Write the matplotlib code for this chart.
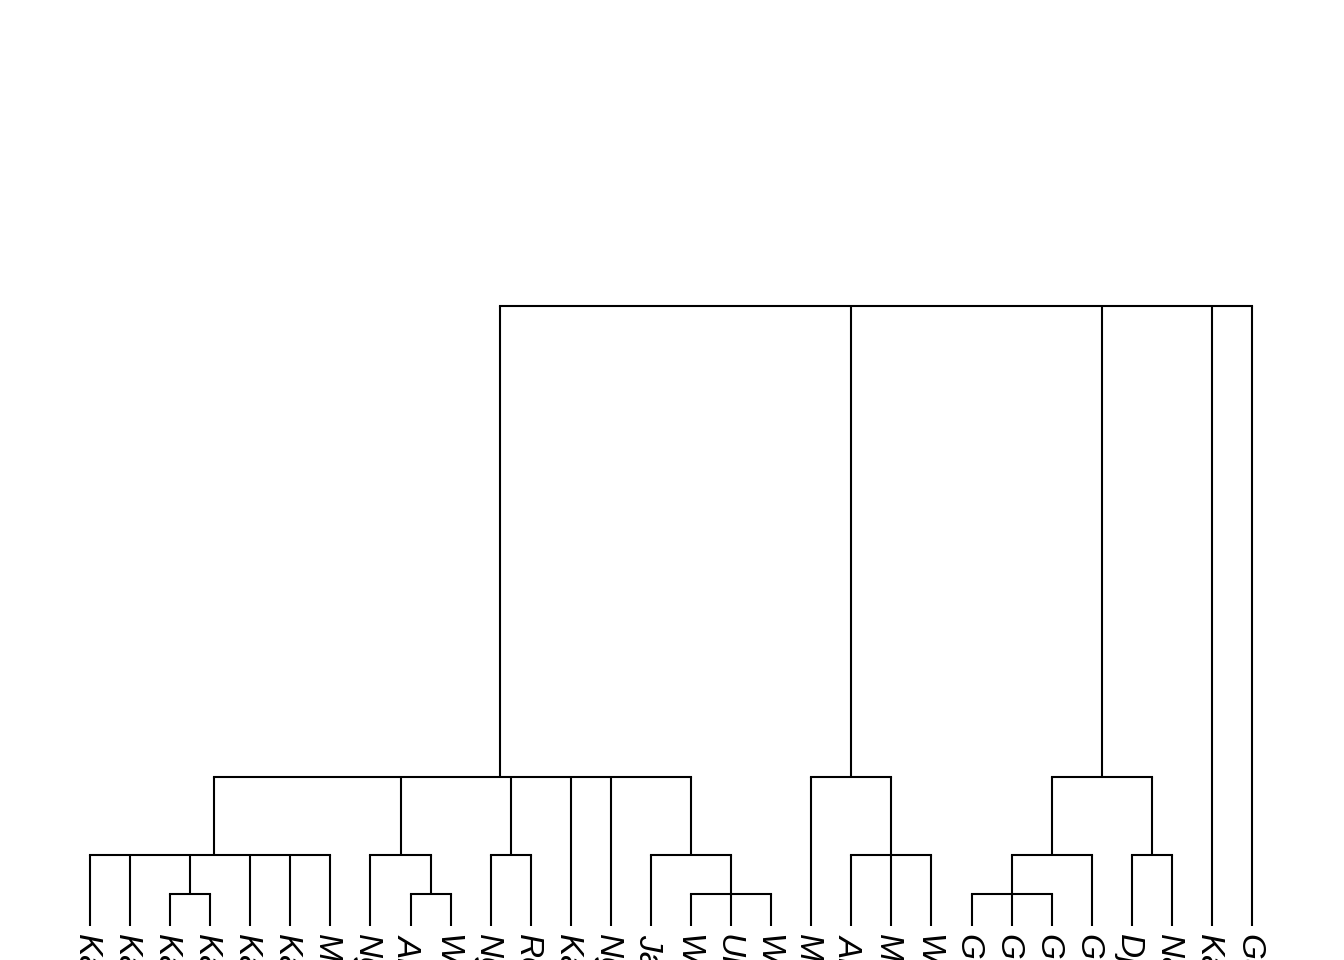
import matplotlib
matplotlib.use("Agg")
import matplotlib.pyplot as plt

leaf_labels = ["Kano", "Kaduna", "Katsina", "Kabba", "Kafanchan", "Kazaure",
               "Maiduguri", "Nguru", "Albasu", "Wudil", "Ngaski", "Rogo",
               "Karaye", "Ngala", "Jama'are", "Warji", "Ungogo", "Wamako",
               "Mubi", "Alkaleri", "Misau", "Wase", "Gombe", "Gusau",
               "Gwarzo", "Gumel", "Djibo", "Nafada", "Kaura", "Garko"]
n_leaves = len(leaf_labels)
leaf_hang = 0.2

# internal nodes: children (ints < 30 are leaves, >= 30 are internal nodes 30+k)
node_children = [
    [2, 3],                    # 30
    [8, 9],                    # 31
    [15, 16, 17],              # 32
    [22, 23, 24],              # 33
    [0, 1, 30, 4, 5, 6],       # 34
    [7, 31],                   # 35
    [10, 11],                  # 36
    [14, 32],                  # 37
    [19, 20, 21],              # 38
    [33, 25],                  # 39
    [26, 27],                  # 40
    [34, 35, 36, 12, 13, 37],  # 41
    [18, 38],                  # 42
    [39, 40],                  # 43
    [41, 42, 43, 28, 29],      # 44 root
]
node_heights = [1, 1, 1, 1, 2, 2, 2, 2, 2, 2, 2, 4, 4, 4, 16]

fig = plt.figure(figsize=(13.44, 9.6), dpi=100)
ax = fig.add_axes([0, 0, 1, 1])
ax.set_xlim(-90 / 40.07, (1344 - 90) / 40.07)
ax.set_ylim((933.5 - 960) / 39.2, 933.5 / 39.2)
ax.axis("off")

pos = {}
hgt = {}
for i in range(n_leaves):
    pos[i] = i
    hgt[i] = leaf_hang

for k, (ch, h) in enumerate(zip(node_children, node_heights)):
    nid = n_leaves + k
    xs = [pos[c] for c in ch]
    pos[nid] = sum(xs) / len(xs)
    hgt[nid] = h
    for c in ch:
        ax.plot([pos[c], pos[c]], [hgt[c], h], color="black", lw=1.5,
                solid_capstyle="butt")
    ax.plot([min(xs), max(xs)], [h, h], color="black", lw=1.5,
            solid_capstyle="projecting")

for i, lab in enumerate(leaf_labels):
    ax.text(i - 0.09, leaf_hang - 0.2, lab, rotation=-90, ha="center", va="top",
            fontsize=24, style="italic", family=["Liberation Sans", "DejaVu Sans"])

fig.savefig("out.png", dpi=100)
